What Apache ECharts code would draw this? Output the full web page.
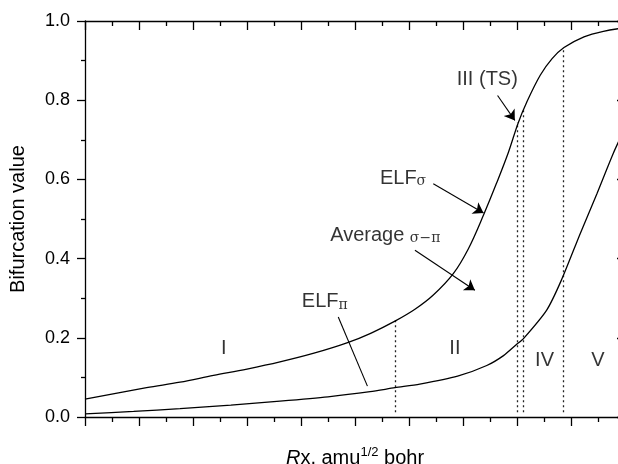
<!DOCTYPE html>
<html>
<head>
<meta charset="utf-8">
<script src="https://cdn.jsdelivr.net/npm/echarts@6/dist/echarts.min.js"></script>
<style>
  html, body { margin: 0; padding: 0; background: #fff; }
  #chart { width: 618px; height: 464px; }
</style>
</head>
<body>
<div id="chart"></div>
<script>
// ELF bifurcation values, [Rx, value]
var sigmaCurve = [[0, 0.045], [1.14, 0.074], [1.76, 0.088], [2.38, 0.105], [3.0, 0.121], [3.61, 0.139],
    [4.24, 0.161], [4.85, 0.187], [5.3, 0.212], [5.74, 0.242], [6.11, 0.272], [6.45, 0.308], [6.82, 0.362],
    [7.1, 0.425], [7.38, 0.51], [7.62, 0.59], [7.84, 0.668], [8.02, 0.742], [8.18, 0.795], [8.43, 0.863],
    [8.65, 0.905], [8.87, 0.933], [9.24, 0.96], [9.6, 0.974], [10, 0.983]];
var piCurve = [[0, 0.008], [0.9, 0.014], [1.76, 0.021], [2.7, 0.03], [3.61, 0.04], [4.5, 0.051], [5.28, 0.064],
    [5.74, 0.074], [6.2, 0.083], [6.9, 0.103], [7.44, 0.13], [7.75, 0.155], [7.99, 0.183], [8.12, 0.198],
    [8.55, 0.27], [8.82, 0.345], [9.17, 0.463], [9.48, 0.564], [9.78, 0.665], [10, 0.73]];

// dotted region borders: x position and the value where they meet the sigma curve
var borderX = [5.75, 8.01, 8.12, 8.85];
var borderTop = [0.245, 0.745, 0.779, 0.93];
var borderBottom = 0.012;

var regionNames = ['I', 'II', 'IV', 'V'];
var regionAt = [[2.57, 0.174], [6.85, 0.173], [8.51, 0.143], [9.5, 0.143]];

var curveNames = ['III (TS)', '{n|ELF}{g|σ}', '{n|Average }{g|σ−π}', '{n|ELF}{g|π}'];
var curveNameAt = [[7.45, 0.853], [5.89, 0.604], [5.56, 0.462], [4.44, 0.293]];
var pointerFrom = [[7.64, 0.812], [6.45, 0.589], [6.11, 0.421], [4.69, 0.2525]];
var pointerTo = [[7.96, 0.749], [7.38, 0.515], [7.22, 0.32], [5.23, 0.078]];
var pointerHead = [true, true, true, false];

var font = 'Liberation Sans';
var ink = '#000';

var chart = echarts.init(document.getElementById('chart'), null, { renderer: 'canvas' });

function frameAxis(pos, inside) {
    return {
        type: 'value',
        position: pos,
        min: 0,
        max: 10,
        interval: 1,
        axisLine: { show: true, onZero: false, lineStyle: { color: ink, width: 1.3 } },
        axisTick: { show: true, inside: inside, length: 9, lineStyle: { color: ink, width: 1.3 } },
        minorTick: { show: true, splitNumber: 2, length: 5, lineStyle: { color: ink, width: 1.3 } },
        axisLabel: { show: false },
        splitLine: { show: false }
    };
}

var xBottom = frameAxis('bottom', false);
xBottom.name = '{i|R}{n|x, amu}{s|1/2}{n| bohr}';
xBottom.nameLocation = 'middle';
xBottom.nameGap = 29;
xBottom.nameTextStyle = {
    rich: {
        i: { fontFamily: font, fontSize: 20, fontStyle: 'italic', color: ink, verticalAlign: 'bottom', lineHeight: 22 },
        n: { fontFamily: font, fontSize: 20, color: ink, verticalAlign: 'bottom', lineHeight: 22 },
        s: { fontFamily: font, fontSize: 13, color: ink, verticalAlign: 'top', lineHeight: 22 }
    }
};
var xTop = frameAxis('top', true);

var yLeft = {
    type: 'value',
    position: 'left',
    min: 0,
    max: 1,
    interval: 0.2,
    axisLine: { show: true, onZero: false, lineStyle: { color: ink, width: 1.3 } },
    axisTick: { show: true, inside: false, length: 8, lineStyle: { color: ink, width: 1.3 } },
    minorTick: { show: true, splitNumber: 2, length: 4, lineStyle: { color: ink, width: 1.3 } },
    axisLabel: {
        margin: 15, fontFamily: font, fontSize: 18, color: ink,
        formatter: function (v) { return v.toFixed(1); }
    },
    splitLine: { show: false },
    name: 'Bifurcation value',
    nameLocation: 'middle',
    nameGap: 57,
    nameTextStyle: { fontFamily: font, fontSize: 20, color: ink }
};
var yRight = {
    type: 'value',
    position: 'right',
    min: 0,
    max: 1,
    interval: 0.2,
    axisLine: { show: true, onZero: false, lineStyle: { color: ink, width: 1.3 } },
    axisTick: { show: true, inside: true, length: 8, lineStyle: { color: ink, width: 1.3 } },
    minorTick: { show: true, splitNumber: 2, length: 4, lineStyle: { color: ink, width: 1.3 } },
    axisLabel: { show: false },
    splitLine: { show: false }
};

var borderLines = borderX.map(function (x, i) {
    return { coords: [[x, borderBottom], [x, borderTop[i]]] };
});

var pointerLines = pointerFrom.map(function (p, i) {
    return {
        coords: [p, pointerTo[i]],
        symbol: ['none', pointerHead[i] ? 'arrow' : 'none']
    };
});

var regionLabels = regionNames.map(function (n, i) {
    return { value: regionAt[i], label: { formatter: n } };
});
var curveLabels = curveNames.map(function (n, i) {
    return { value: curveNameAt[i], label: { formatter: n } };
});

var labelRich = {
    n: { fontFamily: font, fontSize: 20, color: ink, verticalAlign: 'bottom', lineHeight: 22 },
    g: { fontFamily: 'DejaVu Serif', fontSize: 14, color: ink, verticalAlign: 'bottom', lineHeight: 20 }
};

var option = {
    animation: false,
    backgroundColor: '#fff',
    grid: { left: 85, top: 21, width: 540, height: 396, outerBoundsMode: 'none', containLabel: false },
    xAxis: [xBottom, xTop],
    yAxis: [yLeft, yRight],
    series: [
        {
            name: 'ELF sigma',
            type: 'line',
            data: sigmaCurve,
            smooth: 0.35,
            showSymbol: false,
            symbol: 'none',
            clip: true,
            lineStyle: { color: ink, width: 1.3 }
        },
        {
            name: 'ELF pi',
            type: 'line',
            data: piCurve,
            smooth: 0.25,
            showSymbol: false,
            symbol: 'none',
            clip: true,
            lineStyle: { color: ink, width: 1.3 }
        },
        {
            name: 'borders',
            type: 'lines',
            coordinateSystem: 'cartesian2d',
            data: borderLines,
            symbol: 'none',
            lineStyle: { color: '#222', width: 1.3, type: [2, 3], opacity: 1 }
        },
        {
            name: 'pointers',
            type: 'lines',
            coordinateSystem: 'cartesian2d',
            data: pointerLines,
            symbolSize: 10,
            lineStyle: { color: ink, width: 1.1, opacity: 1 },
            itemStyle: { color: ink }
        },
        {
            name: 'regions',
            type: 'scatter',
            data: regionLabels,
            symbolSize: 0,
            silent: true,
            label: {
                show: true, position: 'inside', fontFamily: font, fontSize: 20, color: ink
            }
        },
        {
            name: 'curve names',
            type: 'scatter',
            data: curveLabels,
            symbolSize: 0,
            silent: true,
            label: {
                show: true, position: 'inside', fontFamily: font, fontSize: 20, color: ink,
                rich: labelRich
            }
        }
    ]
};

chart.setOption(option);
</script>
</body>
</html>
